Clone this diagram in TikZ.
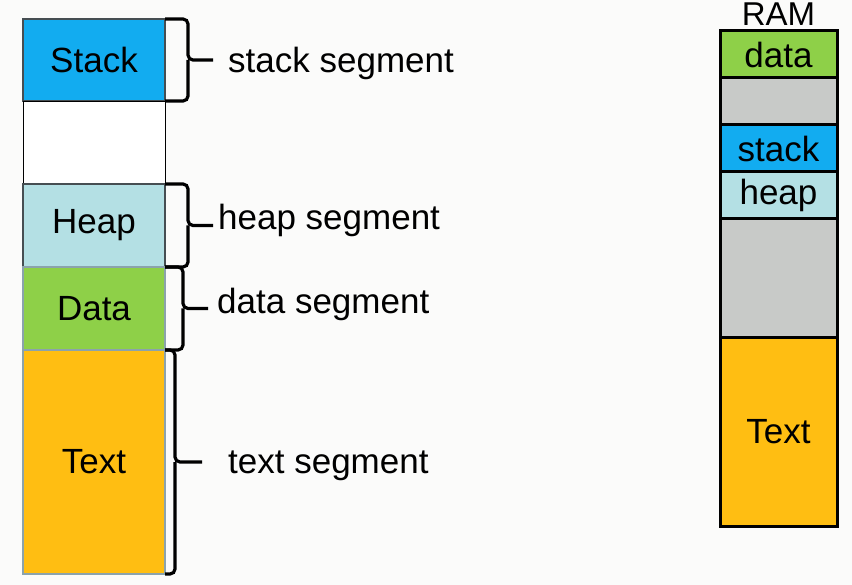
\documentclass[tikz,border=0pt]{standalone}
\usepackage{fontspec}
\setmainfont{Liberation Sans}
\usetikzlibrary{positioning}
\definecolor{pagebg}{RGB}{251,251,250}
\definecolor{stackblue}{RGB}{18,172,240}
\definecolor{heapblue}{RGB}{180,224,228}
\definecolor{datagreen}{RGB}{142,208,72}
\definecolor{textorange}{RGB}{255,190,18}
\definecolor{ramgray}{RGB}{200,202,200}
\definecolor{segline}{RGB}{139,163,172}
\definecolor{darkline}{RGB}{70,78,82}
\newcommand{\bigtext}{\fontsize{35}{40}\selectfont}
\begin{document}
\begin{tikzpicture}[x=1pt,y=-1pt,
  seg/.style={draw=darkline,line width=1.2pt,minimum width=142pt,inner sep=0pt,outer sep=0pt,font=\bigtext},
  ramseg/.style={draw=black,line width=3pt,minimum width=117pt,minimum height=47pt,inner sep=0pt,outer sep=0pt,font=\bigtext},
  brace/.style={line width=3.2pt,rounded corners=5pt},
  lbl/.style={anchor=base west,inner sep=0pt,font=\bigtext}]
% Background
\fill[pagebg] (0,0) rectangle (852,585);

% Process memory layout
\node[seg,fill=stackblue,minimum height=82pt,anchor=north west] (stack) at (23,19) {Stack};
\node[seg,fill=white,draw=black,line width=0.8pt,minimum height=83pt,below=0pt of stack] (gap) {};
\node[seg,fill=heapblue,minimum height=83pt,below=0pt of gap] (heap) {Heap};
\node[seg,fill=datagreen,draw=segline,line width=2.5pt,minimum height=83pt,below=0pt of heap] (data) {Data};
\node[seg,fill=textorange,draw=segline,line width=2.5pt,minimum height=224pt,below=0pt of data] (text) {Text};

% Braces
\draw[brace] (stack.north east) -| ([xshift=23pt]stack.east) -- ++(25,0) coordinate (stacktip);
\draw[brace] (stack.south east) -| ([xshift=23pt]stack.east);
\draw[brace] (heap.north east) -| ([xshift=23pt]heap.east) -- ++(25,0) coordinate (heaptip);
\draw[brace] (heap.south east) -| ([xshift=23pt]heap.east);
\draw[brace] (data.north east) -| ([xshift=18pt]data.east) -- ++(25,0) coordinate (datatip);
\draw[brace] (data.south east) -| ([xshift=18pt]data.east);
\draw[brace] (text.north east) -| ([xshift=10pt]text.east) -- ++(27,0) coordinate (texttip);
\draw[brace] (text.south east) -| ([xshift=10pt]text.east);

% Segment names
\node[lbl] (stacklbl) at (228,73) {stack segment};
\node[lbl] (heaplbl) at (218,230) {heap segment};
\node[lbl] (datalbl) at (217,314) {data segment};
\node[lbl] (textlbl) at (228,473) {text segment};

% RAM
\node[ramseg,fill=datagreen,anchor=north west] (ramdata) at (720,31) {data};
\node[ramseg,fill=ramgray,below=0pt of ramdata] (ramfree) {};
\node[ramseg,fill=stackblue,below=0pt of ramfree] (ramstack) {stack};
\node[ramseg,fill=heapblue,below=0pt of ramstack] (ramheap) {heap};
\node[ramseg,fill=ramgray,minimum height=119pt,below=0pt of ramheap] (ramgap) {};
\node[ramseg,fill=textorange,minimum height=188pt,below=0pt of ramgap] (ramtext) {Text};
\node[above=5pt of ramdata,inner sep=0pt,font=\fontsize{33}{38}\selectfont] (ramlbl) {RAM};
\end{tikzpicture}
\end{document}
